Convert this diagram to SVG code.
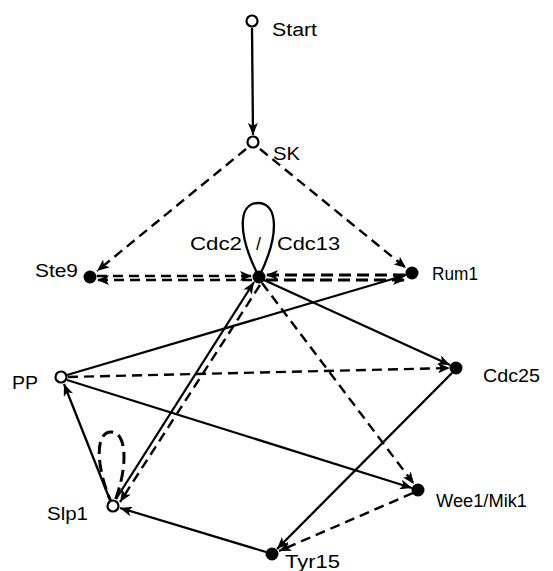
<svg xmlns="http://www.w3.org/2000/svg" width="553" height="571" viewBox="0 0 553 571">
<style>
.e{fill:none;stroke:#000;stroke-width:2.3}
.d{fill:none;stroke:#000;stroke-width:2.4;stroke-dasharray:10,6}
.dd{fill:none;stroke:#000;stroke-width:3;stroke-dasharray:12,6}
.o{fill:#fff;stroke:#000;stroke-width:2.2}
.f{fill:#000}
text{font-family:"Liberation Sans",Arial,sans-serif;font-size:18px;fill:#000}
</style>
<defs>
<marker id="a" markerUnits="userSpaceOnUse" markerWidth="14" markerHeight="10" refX="12" refY="5" orient="auto">
<path d="M0,0 L12,5 L0,10 L3,5 Z" fill="#000"/>
</marker>
</defs>
<rect width="553" height="571" fill="#fff"/>
<g id="connectors">
<line class="e" x1="252" y1="28" x2="253" y2="135" marker-end="url(#a)"/>
<line class="d" x1="246" y1="149" x2="97" y2="271" marker-end="url(#a)"/>
<line class="d" x1="260" y1="149" x2="406" y2="268" marker-end="url(#a)"/>
<path class="e" d="M259,277 C236,232 239,203 258,203 C277,203 281,232 259,277" stroke-width="2.6"/>
<line class="d" x1="97" y1="276" x2="252" y2="276" marker-end="url(#a)"/>
<line class="d" x1="252" y1="280" x2="97" y2="280" marker-end="url(#a)"/>
<line class="dd" x1="405" y1="275" x2="266" y2="275" marker-end="url(#a)"/>
<line class="dd" x1="266" y1="280" x2="405" y2="280" marker-end="url(#a)"/>
<line class="e" x1="264" y1="280" x2="450" y2="365" marker-end="url(#a)"/>
<line class="d" x1="262" y1="283" x2="414" y2="484" marker-end="url(#a)"/>
<line class="e" x1="116" y1="499" x2="254" y2="282" marker-end="url(#a)" stroke-width="2.6"/>
<line class="d" x1="260" y1="285" x2="120" y2="502" marker-end="url(#a)"/>
<line class="e" x1="67" y1="375" x2="406" y2="275" marker-end="url(#a)"/>
<line class="d" x1="68" y1="377" x2="450" y2="368" marker-end="url(#a)"/>
<line class="e" x1="67" y1="380" x2="412" y2="488" marker-end="url(#a)"/>
<line class="e" x1="110" y1="500" x2="64" y2="384" marker-end="url(#a)"/>
<path class="dd" d="M113,506 C96,470 94,432 111,432 C128,432 128,470 113,506" stroke-width="4" stroke-dasharray="10,4"/>
<line class="e" x1="452" y1="373" x2="277" y2="549" marker-end="url(#a)"/>
<line class="d" x1="413" y1="493" x2="279" y2="551" marker-end="url(#a)"/>
<line class="e" x1="266" y1="552" x2="120" y2="508" marker-end="url(#a)"/>
</g>
<g id="start"><circle class="o" cx="252" cy="21" r="5.5"/><text x="272" y="36" textLength="45" lengthAdjust="spacingAndGlyphs">Start</text></g>
<g id="sk"><circle class="o" cx="253" cy="142" r="5.5"/><text x="273" y="160" textLength="27" lengthAdjust="spacingAndGlyphs">SK</text></g>
<g id="cdc2"><circle class="f" cx="259" cy="277" r="6.5"/><text x="190" y="250" textLength="52" lengthAdjust="spacingAndGlyphs">Cdc2</text><text x="256" y="250">/</text><text x="277" y="250" textLength="63" lengthAdjust="spacingAndGlyphs">Cdc13</text></g>
<g id="ste9"><circle class="f" cx="90" cy="277" r="6.5"/><text x="35" y="277" textLength="43" lengthAdjust="spacingAndGlyphs">Ste9</text></g>
<g id="rum1"><circle class="f" cx="412" cy="273" r="6.5"/><text x="432" y="280" textLength="46" lengthAdjust="spacingAndGlyphs">Rum1</text></g>
<g id="pp"><circle class="o" cx="61" cy="377" r="5.5"/><text x="12" y="389" textLength="26" lengthAdjust="spacingAndGlyphs">PP</text></g>
<g id="cdc25"><circle class="f" cx="456" cy="368" r="6.5"/><text x="483" y="382" textLength="57" lengthAdjust="spacingAndGlyphs">Cdc25</text></g>
<g id="slp1"><circle class="o" cx="113" cy="506" r="5.5"/><text x="47" y="520" textLength="41" lengthAdjust="spacingAndGlyphs">Slp1</text></g>
<g id="wee1"><circle class="f" cx="418" cy="490" r="6.5"/><text x="436" y="507" textLength="91" lengthAdjust="spacingAndGlyphs">Wee1/Mik1</text></g>
<g id="tyr15"><circle class="f" cx="272" cy="554" r="6.5"/><text x="285" y="568" textLength="55" lengthAdjust="spacingAndGlyphs">Tyr15</text></g>
</svg>
